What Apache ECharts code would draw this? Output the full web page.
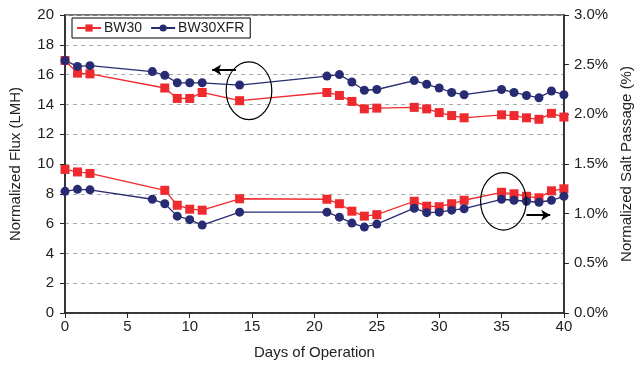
<!DOCTYPE html>
<html>
<head>
<meta charset="utf-8">
<script src="https://cdn.jsdelivr.net/npm/echarts@6/dist/echarts.min.js"></script>
<style>
  html, body { margin: 0; background: #fff; }
  #chart { width: 642px; height: 365px; }
</style>
</head>
<body>
<div id="chart"></div>
<script>
// days of operation
const daysBW30 = [0, 1, 2, 8, 9, 10, 11, 14, 21, 22, 23, 24, 25, 28, 29, 30, 31, 32, 35, 36, 37, 38, 39, 40];
const daysXFR = [0, 1, 2, 7, 8, 9, 10, 11, 14, 21, 22, 23, 24, 25, 28, 29, 30, 31, 32, 35, 36, 37, 38, 39, 40];

// normalized flux (LMH), left axis
const fluxBW30 = [16.95, 16.1, 16.05, 15.1, 14.4, 14.4, 14.8, 14.25, 14.8, 14.6, 14.2, 13.7, 13.75, 13.8, 13.7, 13.45, 13.25, 13.1, 13.3, 13.25, 13.1, 13.0, 13.4, 13.15];
const fluxXFR = [16.95, 16.55, 16.6, 16.2, 15.95, 15.45, 15.45, 15.45, 15.3, 15.9, 16.0, 15.5, 14.95, 15.0, 15.6, 15.35, 15.1, 14.8, 14.65, 15.0, 14.8, 14.6, 14.45, 14.9, 14.65];

// normalized salt passage (%), right axis
const saltBW30 = [1.445, 1.42, 1.405, 1.235, 1.085, 1.045, 1.035, 1.15, 1.145, 1.1, 1.025, 0.975, 0.99, 1.125, 1.075, 1.07, 1.1, 1.135, 1.215, 1.2, 1.175, 1.16, 1.23, 1.25];
const saltXFR = [1.225, 1.245, 1.24, 1.145, 1.1, 0.975, 0.94, 0.885, 1.015, 1.015, 0.965, 0.905, 0.865, 0.895, 1.055, 1.01, 1.015, 1.035, 1.05, 1.145, 1.135, 1.125, 1.115, 1.135, 1.175];

const fluxTicks = [0, 20, 2];
const saltTicks = [0, 3, 0.5];
const dayTicks = [0, 40, 5];

const RED = "#ee2a2e";
const BLUE = "#272c72";
const FONT = "Liberation Sans";

const pairs = (xs, ys) => xs.map((x, i) => [x, ys[i]]);

const chart = echarts.init(document.getElementById("chart"));

const lineSeries = (name, color, symbol, data, yIdx, extra) =>
  Object.assign({
    name: name,
    type: "line",
    yAxisIndex: yIdx,
    data: data,
    symbol: symbol,
    symbolSize: 9,
    showSymbol: true,
    clip: false,
    animation: false,
    lineStyle: { color: color, width: 1.3 },
    itemStyle: { color: color },
    emphasis: { disabled: true },
  }, extra || {});

const arrow = (from, to) => ({
  silent: true,
  symbol: ["none", "arrow"],
  symbolSize: [8, 9],
  label: { show: false },
  lineStyle: { color: "#000", width: 2, type: "solid" },
  data: [[{ coord: from }, { coord: to }]],
});

const option = {
  backgroundColor: "#fff",
  textStyle: { fontFamily: FONT },
  grid: {
    left: 65,
    right: 75,
    top: 15,
    bottom: 51,
    show: true,
    borderColor: "#444",
    borderWidth: 1.5,
  },
  legend: {
    left: 72,
    top: 18,
    padding: [3, 6, 3, 4],
    itemGap: 8,
    itemWidth: 24,
    itemHeight: 9,
    borderColor: "#000",
    borderWidth: 1,
    backgroundColor: "#fff",
    textStyle: { fontFamily: FONT, fontSize: 14, color: "#222", padding: [0, 0, 0, -2] },
    data: ["BW30", "BW30XFR"],
  },
  xAxis: {
    type: "value",
    min: dayTicks[0],
    max: dayTicks[1],
    interval: dayTicks[2],
    name: "Days of Operation",
    nameLocation: "middle",
    nameGap: 32,
    nameTextStyle: { fontFamily: FONT, fontSize: 15, color: "#222" },
    axisLine: { lineStyle: { color: "#222", width: 1.5 } },
    axisTick: { show: true, length: 5, lineStyle: { color: "#222" } },
    axisLabel: { fontFamily: FONT, fontSize: 15, color: "#222", margin: 6 },
    splitLine: { show: false },
  },
  yAxis: [
    {
      type: "value",
      position: "left",
      min: fluxTicks[0],
      max: fluxTicks[1],
      interval: fluxTicks[2],
      name: "Normalized Flux (LMH)",
      nameLocation: "middle",
      nameRotate: 90,
      nameGap: 42,
      nameTextStyle: { fontFamily: FONT, fontSize: 15, color: "#222" },
      axisLine: { show: true, lineStyle: { color: "#222", width: 1.5 } },
      axisTick: { show: true, length: 5, lineStyle: { color: "#222" } },
      axisLabel: { fontFamily: FONT, fontSize: 15, color: "#222", margin: 11 },
      splitLine: { show: true, lineStyle: { color: "#aaa", type: [4, 4], width: 1 } },
    },
    {
      type: "value",
      position: "right",
      min: saltTicks[0],
      max: saltTicks[1],
      interval: saltTicks[2],
      name: "Normalized Salt Passage (%)",
      nameLocation: "middle",
      nameRotate: 90,
      nameGap: 45,
      nameTextStyle: { fontFamily: FONT, fontSize: 15, color: "#222" },
      axisLine: { show: true, lineStyle: { color: "#222", width: 1.5 } },
      axisTick: { show: true, length: 5, lineStyle: { color: "#222" } },
      axisLabel: {
        fontFamily: FONT, fontSize: 15, color: "#222", margin: 10,
        formatter: (v) => v.toFixed(1) + "%",
      },
      splitLine: { show: false },
    },
  ],
  series: [
    lineSeries("BW30", RED, "rect", pairs(daysBW30, fluxBW30), 0),
    lineSeries("BW30", RED, "rect", pairs(daysBW30, saltBW30), 1),
    lineSeries("BW30XFR", BLUE, "circle", pairs(daysXFR, fluxXFR), 0, {
      markLine: arrow([13.7, 16.32], [11.8, 16.32]),
    }),
    lineSeries("BW30XFR", BLUE, "circle", pairs(daysXFR, saltXFR), 1, {
      markLine: arrow([37.0, 0.986], [38.9, 0.986]),
    }),
  ],
};

chart.setOption(option);

// ellipses circling the highlighted regions, placed in data coordinates
function ring(center, rx, ry, yIdx) {
  const finder = { xAxisIndex: 0, yAxisIndex: yIdx };
  const c = chart.convertToPixel(finder, center);
  const ex = chart.convertToPixel(finder, [center[0] + rx, center[1]]);
  const ey = chart.convertToPixel(finder, [center[0], center[1] + ry]);
  return {
    type: "ellipse",
    silent: true,
    z: 10,
    shape: { cx: c[0], cy: c[1], rx: Math.abs(ex[0] - c[0]), ry: Math.abs(c[1] - ey[1]) },
    style: { fill: "none", stroke: "#000", lineWidth: 1.2 },
  };
}

chart.setOption({
  graphic: [
    ring([14.75, 14.92], 1.83, 1.94, 0),
    ring([35.15, 1.124], 1.83, 0.29, 1),
  ],
});

window.addEventListener("resize", () => chart.resize());
</script>
</body>
</html>
